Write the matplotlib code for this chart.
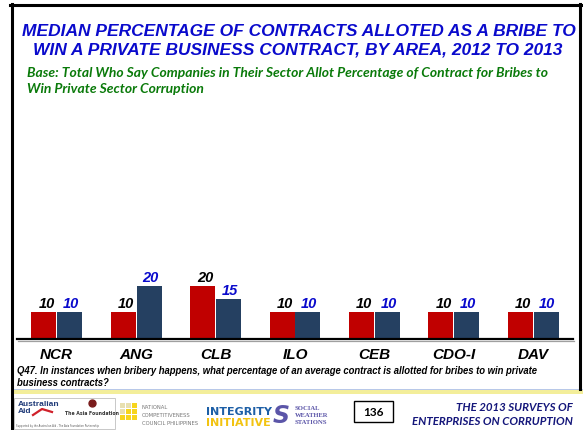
import matplotlib
matplotlib.use("Agg")
from matplotlib import pyplot as plt
from matplotlib.patches import Rectangle
from matplotlib.lines import Line2D
import numpy as np

areas = ['NCR', 'ANG', 'CLB', 'ILO', 'CEB', 'CDO-I', 'DAV']
val_2012 = [10, 10, 20, 10, 10, 10, 10]
val_2013 = [10, 20, 15, 10, 10, 10, 10]

titre = ["MEDIAN PERCENTAGE OF CONTRACTS ALLOTED AS A BRIBE TO",
         "WIN A PRIVATE BUSINESS CONTRACT, BY AREA, 2012 TO 2013"]
base = ["Base: Total Who Say Companies in Their Sector Allot Percentage of Contract for Bribes to",
        "Win Private Sector Corruption"]
question = ["Q47. In instances when bribery happens, what percentage of an average contract is allotted for bribes to win private",
            "business contracts?"]

W, H = 583, 431
ROUGE = '#C00000'
MARINE = '#254061'
BLEU = '#0A0ACC'
VERT = '#0A7A0A'


def fx(x):
    return x / W


def fy(y):
    return 1 - y / H


fig = plt.figure(figsize=(W / 100, H / 100), dpi=100)
fig.patch.set_facecolor('white')

# cadre de la diapo
fig.add_artist(Line2D([fx(11.5), fx(11.5)], [fy(5), fy(431)], color='black', lw=2.2, transform=fig.transFigure))
fig.add_artist(Line2D([fx(10), fx(583)], [fy(6.3), fy(6.3)], color='black', lw=2.2, transform=fig.transFigure))
fig.add_artist(Line2D([fx(580), fx(580)], [fy(5), fy(390)], color='black', lw=2.2, transform=fig.transFigure))
# liseré jaune / bleu
fig.add_artist(Rectangle((fx(12), fy(395)), fx(571), 4 / H, color='#F3EE9A', transform=fig.transFigure, lw=0))
fig.add_artist(Rectangle((fx(12), fy(391)), fx(571), 1.2 / H, color='#B8C8E8', transform=fig.transFigure, lw=0))

# titre
fig.text(fx(299), fy(31), titre[0], ha='center', va='center', color=BLEU, fontsize=12.5,
         fontweight='bold', fontstyle='italic', family='Liberation Sans')
fig.text(fx(298), fy(50), titre[1], ha='center', va='center', color=BLEU, fontsize=12.5,
         fontweight='bold', fontstyle='italic', family='Liberation Sans')
fig.text(fx(27), fy(73), base[0], ha='left', va='center', color=VERT, fontsize=10,
         fontweight='bold', fontstyle='italic', family='Lato')
fig.text(fx(27), fy(89), base[1], ha='left', va='center', color=VERT, fontsize=10,
         fontweight='bold', fontstyle='italic', family='Lato')

# graphique
y_bas, y_haut = 339.5, 130
ax = fig.add_axes([fx(17), fy(y_bas), fx(573 - 17), (y_bas - y_haut) / H])
x = np.arange(len(areas))
larg = 0.315
b1 = ax.bar(x - larg / 2 - 0.005, val_2012, larg, color=ROUGE, zorder=2)
b2 = ax.bar(x + larg / 2 + 0.005, val_2013, larg, color=MARINE, zorder=2)
ax.set_xlim(-0.5, 6.5)
ax.set_ylim(0, (y_bas - y_haut) / 2.63)
for xi, v in zip(x, val_2012):
    ax.annotate(str(v), (xi - larg / 2 + 0.03, v), xytext=(0, 3.5), textcoords='offset points',
                ha='center', va='baseline', fontsize=10.5, fontweight='bold', fontstyle='italic',
                family='Liberation Sans', color='black')
for xi, v in zip(x, val_2013):
    ax.annotate(str(v), (xi + larg / 2 + 0.02, v), xytext=(0, 3.5), textcoords='offset points',
                ha='center', va='baseline', fontsize=10.5, fontweight='bold', fontstyle='italic',
                family='Liberation Sans', color=BLEU)
for s in ['top', 'right', 'left']:
    ax.spines[s].set_visible(False)
ax.spines['bottom'].set_linewidth(1.6)
ax.set_yticks([])
ax.set_xticks(x)
ax.set_xticklabels(areas, fontsize=11, fontweight='bold', fontstyle='italic', family='Liberation Sans')
ax.tick_params(axis='x', length=0, pad=6)
ax.patch.set_alpha(0)
# ombre sous l'axe
fig.add_artist(Line2D([fx(18), fx(574)], [fy(341.8), fy(341.8)], color='#A0A0A0', lw=0.9, transform=fig.transFigure))

# question
fig.text(fx(17), fy(371), question[0], ha='left', va='center', fontsize=6.85, fontweight='bold',
         fontstyle='italic', family='Liberation Sans')
fig.text(fx(17), fy(383), question[1], ha='left', va='center', fontsize=6.85, fontweight='bold',
         fontstyle='italic', family='Liberation Sans')

# pied de page : logos
fig.add_artist(Rectangle((fx(14), fy(430)), fx(101), 31 / H, fill=False, ec='#C8C8C8', lw=0.7, transform=fig.transFigure))
fig.text(fx(18), fy(405), 'Australian', fontsize=6, fontweight='bold', color='#1F3A78', va='center', family='Liberation Sans')
fig.text(fx(18), fy(412), 'Aid', fontsize=6, fontweight='bold', color='#1F3A78', va='center', family='Liberation Sans')
fig.add_artist(Line2D([fx(33), fx(42), fx(52)], [fy(416), fy(410), fy(413)], color='#D0202A', lw=1.6, transform=fig.transFigure))
fig.add_artist(Line2D([fx(92)], [fy(404)], marker='o', ms=5, color='#7A1C1C', transform=fig.transFigure))
fig.text(fx(65), fy(414), 'The Asia Foundation', fontsize=3.3, fontweight='bold', color='#333333', va='center')
fig.text(fx(16), fy(426), 'Supported by the Australian Aid - The Asia Foundation Partnership', fontsize=1.8, color='#555555', va='center')

for i in range(3):
    for j in range(3):
        fig.add_artist(Rectangle((fx(120 + 6 * i), fy(409 + 6 * j)), 5.4 / W, 5.4 / H,
                                 color='#F7D51D' if i + j >= 2 else '#E8E0B0', lw=0, transform=fig.transFigure))
for k, t in enumerate(['NATIONAL', 'COMPETITIVENESS', 'COUNCIL PHILIPPINES']):
    fig.text(fx(142), fy(408 + 8 * k), t, fontsize=3.8, color='#777777', va='center', family='Liberation Sans Narrow')

fig.text(fx(206), fy(412), 'INTEGRITY', fontsize=8, fontweight='bold', color='#1D5FA6', va='center', family='DejaVu Sans')
fig.text(fx(206), fy(423), 'INITIATIVE', fontsize=8, fontweight='bold', color='#F2C311', va='center', family='DejaVu Sans')

fig.text(fx(273), fy(416), 'S', fontsize=17, fontweight='bold', fontstyle='italic', color='#5B55A8', va='center')
for k, t in enumerate(['SOCIAL', 'WEATHER', 'STATIONS']):
    fig.text(fx(295), fy(409 + 7 * k), t, fontsize=4.8, fontweight='bold', color='#5B55A8', va='center', family='Liberation Serif')

fig.add_artist(Rectangle((fx(354), fy(423)), 39 / W, 21 / H, fill=False, ec='black', lw=1, transform=fig.transFigure))
fig.text(fx(373.5), fy(412.5), '136', ha='center', va='center', fontsize=8.5, fontweight='bold', family='Lato')

fig.text(fx(573), fy(408), 'THE 2013 SURVEYS OF', ha='right', va='center', fontsize=8.3, fontweight='bold',
         fontstyle='italic', color='#14167A', family='Lato')
fig.text(fx(573), fy(422), 'ENTERPRISES ON CORRUPTION', ha='right', va='center', fontsize=8.3, fontweight='bold',
         fontstyle='italic', color='#14167A', family='Lato')

fig.savefig('out.png', dpi=100)
